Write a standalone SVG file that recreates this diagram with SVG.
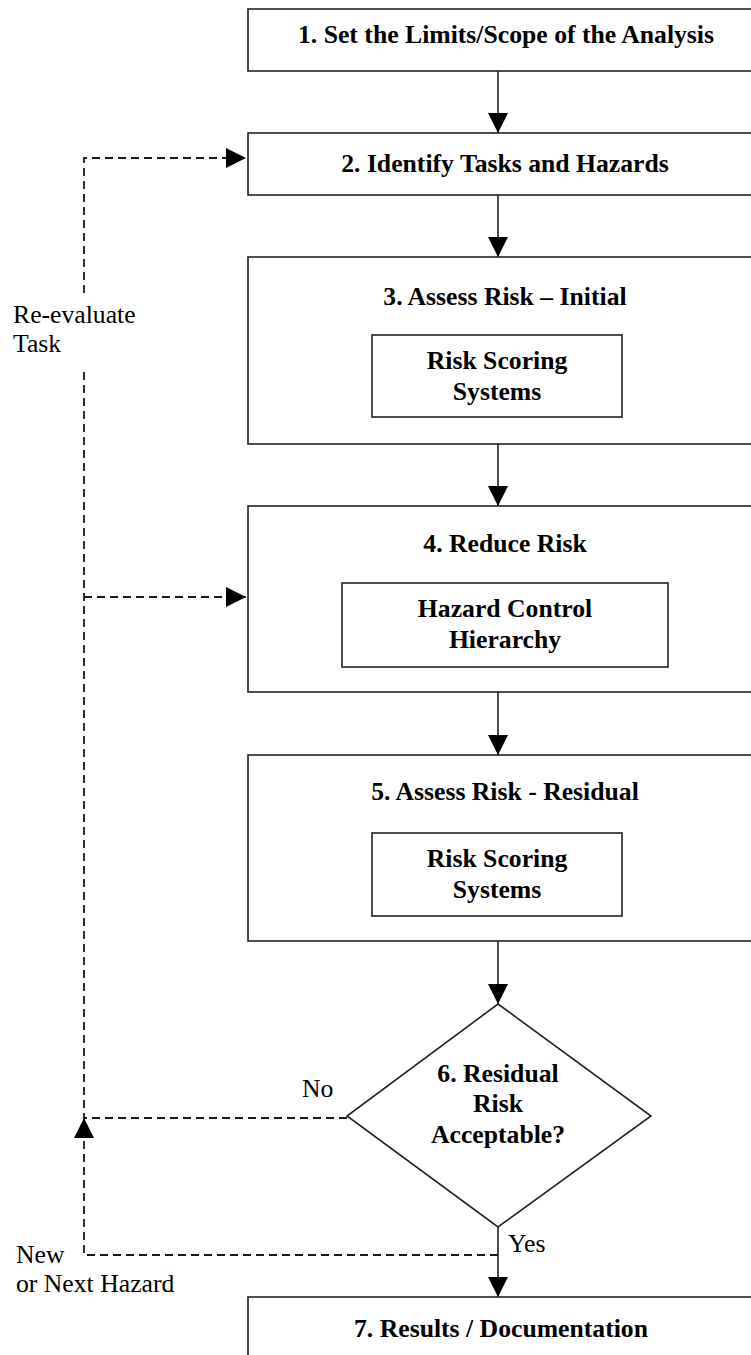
<svg xmlns="http://www.w3.org/2000/svg" width="751" height="1355" viewBox="0 0 751 1355">
<style>
.box{fill:#fff;stroke:#222;stroke-width:1.6}
.t{font-family:"Liberation Serif","Times New Roman",serif;font-size:25.7px;fill:#000}
.b{font-weight:bold;text-anchor:middle}
.solid{fill:none;stroke:#222;stroke-width:1.6}
.dash{fill:none;stroke:#1a1a1a;stroke-width:1.8;stroke-dasharray:8,5}
</style>
<defs>
<marker id="ah" viewBox="0 0 20 20" refX="20" refY="10" markerWidth="20" markerHeight="20" markerUnits="userSpaceOnUse" orient="auto">
<path d="M0,0 L20,10 L0,20 z" fill="#000" stroke="none"/>
</marker>
</defs>
<rect width="751" height="1355" fill="#fff"/>
<g id="connectors">
<path class="solid" d="M498,71 V133" marker-end="url(#ah)"/>
<path class="solid" d="M498,195 V257" marker-end="url(#ah)"/>
<path class="solid" d="M498,444 V506" marker-end="url(#ah)"/>
<path class="solid" d="M498,692 V755" marker-end="url(#ah)"/>
<path class="solid" d="M498,941 V1004" marker-end="url(#ah)"/>
<path class="solid" d="M498,1227 V1297" marker-end="url(#ah)"/>
<path class="dash" d="M347,1118 H84 V367"/>
<path class="dash" d="M84,293 V158 H246" marker-end="url(#ah)"/>
<path class="dash" d="M84,597 H246" marker-end="url(#ah)"/>
<path class="dash" d="M498,1255 H84 V1118" marker-end="url(#ah)"/>
<text class="t" x="13" y="323">Re-evaluate</text>
<text class="t" x="13" y="352">Task</text>
<text class="t" x="302" y="1097">No</text>
<text class="t" x="508" y="1252">Yes</text>
<text class="t" x="16" y="1263">New</text>
<text class="t" x="16" y="1292">or Next Hazard</text>
</g>
<g id="n1">
<rect class="box" x="248" y="9" width="520" height="62"/>
<text class="t b" x="506" y="43">1. Set the Limits/Scope of the Analysis</text>
</g>
<g id="n2">
<rect class="box" x="248" y="133" width="520" height="62"/>
<text class="t b" x="505" y="172">2. Identify Tasks and Hazards</text>
</g>
<g id="n3">
<rect class="box" x="248" y="257" width="520" height="187"/>
<text class="t b" x="505" y="305">3. Assess Risk – Initial</text>
<rect class="box" x="372" y="335" width="250" height="82"/>
<text class="t b" x="497" y="369">Risk Scoring</text>
<text class="t b" x="497" y="400">Systems</text>
</g>
<g id="n4">
<rect class="box" x="248" y="506" width="520" height="186"/>
<text class="t b" x="505" y="552">4. Reduce Risk</text>
<rect class="box" x="342" y="583" width="326" height="84"/>
<text class="t b" x="505" y="617">Hazard Control</text>
<text class="t b" x="505" y="648">Hierarchy</text>
</g>
<g id="n5">
<rect class="box" x="248" y="755" width="520" height="186"/>
<text class="t b" x="505" y="800">5. Assess Risk - Residual</text>
<rect class="box" x="372" y="833" width="250" height="83"/>
<text class="t b" x="497" y="867">Risk Scoring</text>
<text class="t b" x="497" y="898">Systems</text>
</g>
<g id="n6">
<polygon class="box" points="498,1004 651,1116 498,1227 347,1116"/>
<text class="t b" x="498" y="1082">6. Residual</text>
<text class="t b" x="498" y="1112">Risk</text>
<text class="t b" x="498" y="1143">Acceptable?</text>
</g>
<g id="n7">
<rect class="box" x="248" y="1297" width="520" height="100"/>
<text class="t b" x="501" y="1337">7. Results / Documentation</text>
</g>
</svg>
